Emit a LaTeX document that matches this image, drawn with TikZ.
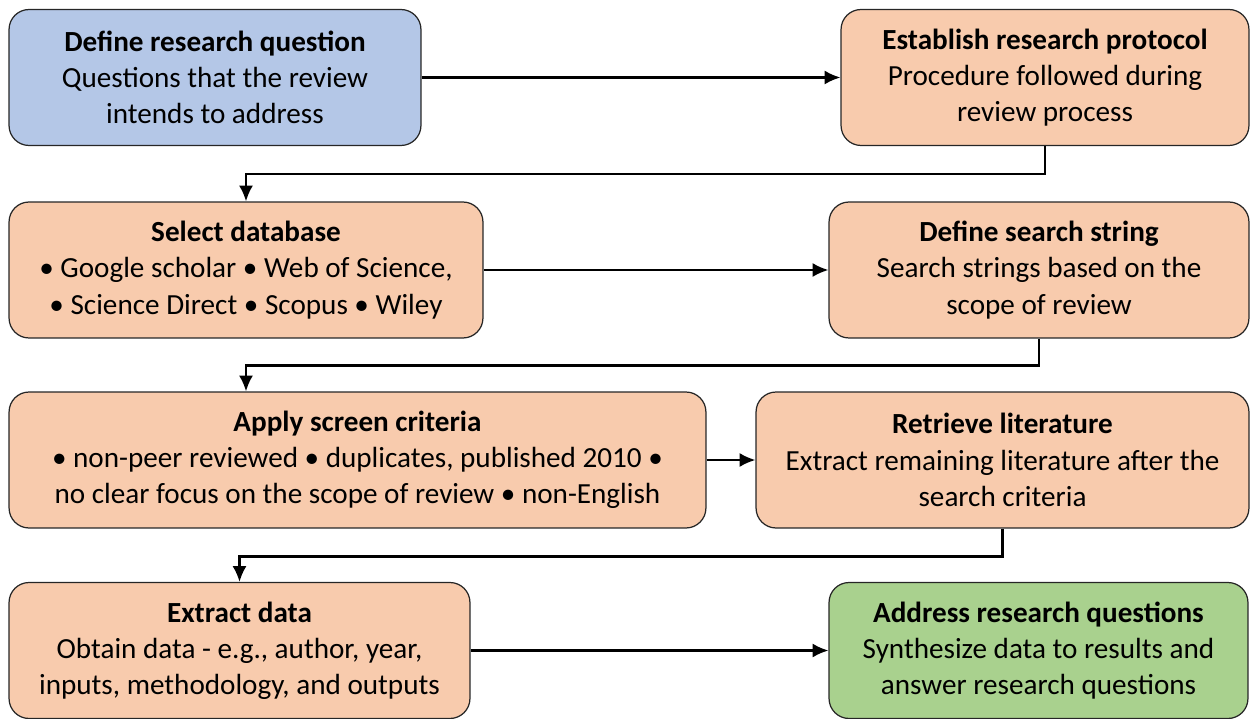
\documentclass[tikz,border=0pt]{standalone}
\usepackage{fontspec}
\setmainfont{Carlito}
\usepackage{tikz}
\usetikzlibrary{arrows.meta, positioning}
\definecolor{qblue}{HTML}{B4C7E7}
\definecolor{qorange}{HTML}{F8CBAD}
\definecolor{qgreen}{HTML}{A9D18E}
\tikzset{>={Latex[length=9pt,width=8pt]}}
\tikzset{stage/.style={draw=black!85, line width=0.7pt, rounded corners=0.4cm,
    align=center, inner sep=0pt, minimum height=2.72cm,
    font=\fontsize{16.6}{20.6}\selectfont}}
\tikzset{flow/.style={->, line width=1.3pt}}

\begin{document}
\begin{tikzpicture}[x=0.02cm, y=-0.02cm]
  \useasboundingbox (0,0) rectangle (1250,719);
  % first row
  \node[stage, fill=qblue, minimum width=8.24cm] (question) at (215,77.5)
    {\textbf{Define research question}\\Questions that the review\\intends to address};
  \node[stage, fill=qorange, minimum width=8.16cm] (protocol) at (1045,77.5)
    {\textbf{Establish research protocol}\\Procedure followed during\\review process};
  % second row
  \node[stage, fill=qorange, minimum width=9.48cm] (database) at (246,270)
    {\textbf{Select database}\\• Google scholar • Web of Science,\\• Science Direct • Scopus • Wiley};
  \node[stage, fill=qorange, minimum width=8.4cm] (searchstr) at (1039,270)
    {\textbf{Define search string}\\Search strings based on the\\scope of review};
  % third row
  \node[stage, fill=qorange, minimum width=13.94cm] (screen) at (357.5,460)
    {\textbf{Apply screen criteria}\\• non-peer reviewed • duplicates, published 2010 •\\no clear focus on the scope of review • non-English};
  \node[stage, fill=qorange, minimum width=9.86cm] (retrieve) at (1002.5,460)
    {\textbf{Retrieve literature}\\Extract remaining literature after the\\search criteria};
  % fourth row
  \node[stage, fill=qorange, minimum width=9.22cm] (extract) at (239.5,650.5)
    {\textbf{Extract data}\\Obtain data - e.g., author, year,\\inputs, methodology, and outputs};
  \node[stage, fill=qgreen, minimum width=8.38cm] (answer) at (1038.5,650.5)
    {\textbf{Address research questions}\\Synthesize data to results and\\answer research questions};
  % connectors
  \draw[flow] (question) -- (protocol);
  \draw[flow] (protocol.south) -- ++(0,28) -| (database.north);
  \draw[flow] (database) -- (searchstr);
  \draw[flow] (searchstr.south) -- ++(0,27) -| (database.north |- screen.north);
  \draw[flow] (screen) -- (retrieve);
  \draw[flow] (retrieve.south) -- ++(0,28) -| (extract.north);
  \draw[flow] (extract) -- (answer);
\end{tikzpicture}
\end{document}
